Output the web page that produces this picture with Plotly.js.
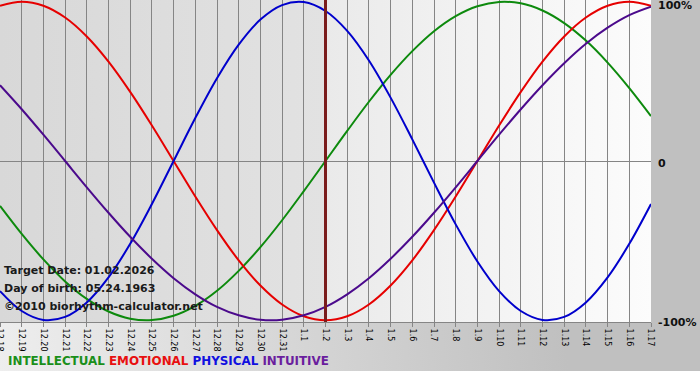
<!DOCTYPE html>
<html>
<head>
<meta charset="utf-8">
<script src="https://cdn.plot.ly/plotly-3.0.1.min.js"></script>
<style>html,body{margin:0;padding:0;background:#fff;}#chart{width:700px;height:380px;}</style>
</head>
<body>
<div id="chart"></div>
<script>
// Days shown on the x axis (month.day)
const days = ['12.18','12.19','12.20','12.21','12.22','12.23','12.24','12.25','12.26','12.27','12.28','12.29','12.30','12.31',
  '1.1','1.2','1.3','1.4','1.5','1.6','1.7','1.8','1.9','1.10','1.11','1.12','1.13','1.14','1.15','1.16','1.17'];
const targetDay = '1.2';

// Series values in percent
const intellectual = [-28.2,-45.8,-61.8,-75.6,-86.6,-94.5,-99.0,-99.9,-97.2,-91.0,-81.5,-69.0,-54.1,-37.2,-18.9,
  0,18.9,37.2,54.1,69.0,81.5,91.0,97.2,99.9,99.0,94.5,86.6,75.6,61.8,45.8,28.2];
const emotional = [97.5,100,97.5,90.1,78.2,62.4,43.4,22.3,0,-22.3,-43.4,-62.4,-78.2,-90.1,-97.5,
  -100,-97.5,-90.1,-78.2,-62.4,-43.4,-22.3,0,22.3,43.4,62.4,78.2,90.1,97.5,100,97.5];
const physical = [-81.7,-94.2,-99.8,-97.9,-88.8,-73.1,-52.0,-27.0,0,27.0,52.0,73.1,88.8,97.9,99.8,
  94.2,81.7,63.1,39.8,13.6,-13.6,-39.8,-63.1,-81.7,-94.2,-99.8,-97.9,-88.8,-73.1,-52.0,-27.0];
const intuitive = [47.6,32.5,16.5,0,-16.5,-32.5,-47.6,-61.4,-73.6,-83.7,-91.6,-96.9,-99.7,-99.7,-96.9,
  -91.6,-83.7,-73.6,-61.4,-47.6,-32.5,-16.5,0,16.5,32.5,47.6,61.4,73.6,83.7,91.6,96.9];

const seriesNames = ['INTELLECTUAL','EMOTIONAL','PHYSICAL','INTUITIVE'];
const seriesColors = ['#0d8a0d','#e60000','#0000cc','#4b0a8c'];
const legendColors = ['#1a8f1a','#e81010','#1010e0','#6a1e9e'];
const yTickVals = [100,0,-100];
const yTickText = ['100%','0','-100%'];
const infoLines = ['Target Date: 01.02.2026','Day of birth: 05.24.1963','\u00a92010 biorhythm-calculator.net'];

// ---- background image (page gray + plot gradient) ----
const W = 700, H = 380, PL = 0, PR = 651, PT = 0, PB = 322;
const cv = document.createElement('canvas');
cv.width = W; cv.height = H;
const ctx = cv.getContext('2d');
ctx.fillStyle = '#c0c0c0';
ctx.fillRect(0,0,W,H);
let g = ctx.createLinearGradient(0, 372, 560, 300);
g.addColorStop(0, '#eeeeee');
g.addColorStop(1, '#c0c0c0');
ctx.fillStyle = g;
ctx.fillRect(0, PB, W, 371 - PB);
ctx.fillStyle = '#ffffff';
ctx.fillRect(0, 371, W, H - 371);
const tIdx = days.indexOf(targetDay);
const xT = PL + (PR - PL) * tIdx / (days.length - 1);
let g1 = ctx.createLinearGradient(PL, 0, xT, 0);
g1.addColorStop(0, '#d8d8d8'); g1.addColorStop(1, '#e2e2e2');
ctx.fillStyle = g1; ctx.fillRect(PL, PT, xT - PL, PB - PT);
let g2 = ctx.createLinearGradient(xT, 0, PR, 0);
g2.addColorStop(0, '#eaeaea'); g2.addColorStop(1, '#fcfcfc');
ctx.fillStyle = g2; ctx.fillRect(xT, PT, PR - xT, PB - PT);
const bgURL = cv.toDataURL('image/png');

const seriesData = [intellectual, emotional, physical, intuitive];
const traces = seriesData.map((vals, i) => ({
  type: 'scatter', mode: 'lines', x: days, y: vals, name: seriesNames[i],
  line: {color: seriesColors[i], width: 2, shape: 'spline', smoothing: 1},
  hoverinfo: 'skip', showlegend: false
}));

const plotH = PB - PT, plotW = PR - PL;
const annotations = infoLines.map((t, i) => ({
  xref: 'paper', yref: 'paper', x: 2 / plotW, y: (PB - [270, 288, 306][i]) / plotH,
  xanchor: 'left', yanchor: 'middle', showarrow: false, text: t,
  font: {family: 'DejaVu Sans', size: 11, color: '#1a1a1a', weight: 'bold'}
}));
annotations.push({
  xref: 'paper', yref: 'paper', x: 6 / plotW, y: (PB - 361) / plotH,
  xanchor: 'left', yanchor: 'middle', showarrow: false,
  text: seriesNames.map((n, i) => '<span style="color:' + legendColors[i] + '">' + n + '</span>').join(' '),
  font: {family: 'DejaVu Sans', size: 11.9, weight: 'bold'}
});
// right-hand percent labels (placed by their axis values, nudged to the reference positions)
const labelShift = [4, 2, 2];
yTickVals.forEach((v, i) => annotations.push({
  xref: 'paper', yref: 'y', x: 1 + 5 / plotW, y: v, yshift: -labelShift[i],
  xanchor: 'left', yanchor: 'middle', showarrow: false, text: yTickText[i],
  font: {family: 'DejaVu Sans', size: 11, color: '#111', weight: 'bold'}
}));

const layout = {
  width: W, height: H,
  margin: {l: PL, r: W - PR, t: PT, b: H - PB, pad: 0},
  paper_bgcolor: '#c0c0c0', plot_bgcolor: 'rgba(0,0,0,0)',
  showlegend: false,
  images: [{source: bgURL, xref: 'paper', yref: 'paper', x: -PL / plotW, y: 1 + PT / plotH,
    sizex: W / plotW, sizey: H / plotH, xanchor: 'left', yanchor: 'top', sizing: 'stretch', layer: 'below'}],
  xaxis: {
    type: 'category', range: [0, days.length - 1], tickmode: 'linear', tick0: 0, dtick: 1,
    showgrid: true, gridcolor: '#858585', gridwidth: 1,
    showline: true, linecolor: '#858585', linewidth: 1,
    ticks: 'outside', ticklen: 4, tickcolor: '#858585',
    tickangle: 90, tickfont: {family: 'DejaVu Sans', size: 8, color: '#000'},
    zeroline: false, fixedrange: true, ticklabeloverflow: 'allow'
  },
  yaxis: {
    range: [-101.1, 101.1], side: 'right', tickmode: 'array', tickvals: yTickVals,
    showticklabels: false, showgrid: false, zeroline: true, zerolinecolor: '#858585', zerolinewidth: 1,
    ticks: '', showline: false, fixedrange: true
  },
  shapes: [{type: 'line', xref: 'x', yref: 'y domain', x0: tIdx, x1: tIdx, y0: 0, y1: 1,
    line: {color: '#7a1c1c', width: 3}, layer: 'above'}],
  annotations: annotations
};

Plotly.newPlot('chart', traces, layout, {staticPlot: true, displayModeBar: false});
</script>
</body>
</html>
